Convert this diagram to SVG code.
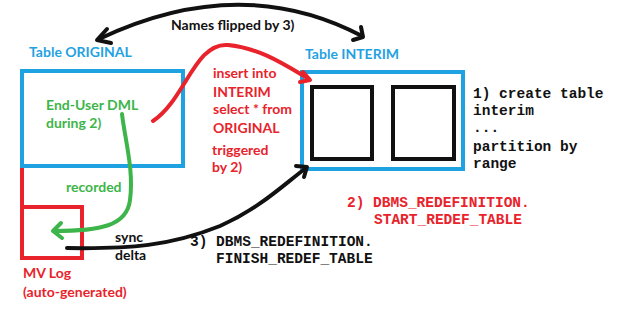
<svg xmlns="http://www.w3.org/2000/svg" width="620" height="313" viewBox="0 0 620 313">
<style>
.sans{font-family:Lato,"Liberation Sans",sans-serif;font-weight:bold;font-size:14px}
.mono{font-family:"Liberation Mono","Courier New",monospace;font-weight:bold;font-size:14.5px}
.blue{fill:#1fa2e2}
.green{fill:#3db54a}
.red{fill:#e8232b}
.blk{fill:#111}
.ln{fill:none;stroke-linecap:round;stroke-linejoin:round}
</style>
<rect width="620" height="313" fill="#fff"/>
<g id="original">
<rect x="22" y="71" width="161" height="95" fill="none" stroke="#1fa2e2" stroke-width="4"/>
<text class="sans blue" x="29" y="57">Table ORIGINAL</text>
<text class="sans green" x="46" y="110">End-User DML</text>
<text class="sans green" x="46" y="128">during 2)</text>
</g>
<g id="interim">
<rect x="302" y="72" width="161" height="97" fill="none" stroke="#1fa2e2" stroke-width="4"/>
<rect x="312" y="87" width="60" height="72" fill="none" stroke="#111" stroke-width="4"/>
<rect x="393" y="87" width="61" height="72" fill="none" stroke="#111" stroke-width="4"/>
<text class="sans blue" x="305" y="59">Table INTERIM</text>
</g>
<g id="mvlog">
<path d="M22,168 V258 H82 V207 H22" fill="none" stroke="#e8232b" stroke-width="4"/>
<text class="sans red" x="23" y="278">MV Log</text>
<text class="sans red" x="23" y="297">(auto-generated)</text>
</g>
<g id="notes">
<text class="mono blk" x="473" y="98">1) create table</text>
<text class="mono blk" x="473" y="115">interim</text>
<text class="mono blk" x="473" y="132">...</text>
<text class="mono blk" x="473" y="151">partition by</text>
<text class="mono blk" x="473" y="168">range</text>
<text class="mono red" x="347" y="207">2)  DBMS_REDEFINITION.</text>
<text class="mono red" x="374" y="224">START_REDEF_TABLE</text>
<text class="mono blk" x="190" y="246">3)  DBMS_REDEFINITION.</text>
<text class="mono blk" x="216" y="263">FINISH_REDEF_TABLE</text>
</g>
<g id="connectors">
<path class="ln" d="M99,39 Q240,-28 362,36" stroke="#111" stroke-width="4"/>
<path class="ln" d="M107,29 L97,40 L111,43" stroke="#111" stroke-width="4"/>
<path class="ln" d="M361,27 L363,37 L353,40" stroke="#111" stroke-width="4"/>
<text class="sans blk" x="171" y="30">Names flipped by 3)</text>

<path class="ln" d="M153,121 C185,100 195,42 228,45 C260,48 285,65 309,79" stroke="#e8232b" stroke-width="4"/>
<path class="ln" d="M303,72 L310,80 L300,82" stroke="#e8232b" stroke-width="4"/>
<text class="sans red" x="213" y="78">insert into</text>
<text class="sans red" x="213" y="97">INTERIM</text>
<text class="sans red" x="213" y="114">select * from</text>
<text class="sans red" x="213" y="133">ORIGINAL</text>
<text class="sans red" x="212" y="155">triggered</text>
<text class="sans red" x="212" y="172">by 2)</text>

<path class="ln" d="M122,114 C125,140 134,170 130,200 C127,226 100,231 54,231" stroke="#3db54a" stroke-width="4"/>
<path class="ln" d="M61,223 L53,231 L62,238" stroke="#3db54a" stroke-width="4"/>
<text class="sans green" x="66" y="192">recorded</text>

<path class="ln" d="M67,248 C130,249 170,246 220,226 C260,208 282,186 306,168" stroke="#111" stroke-width="4"/>
<path class="ln" d="M296,166 L307,167 L304,177" stroke="#111" stroke-width="4"/>
<text class="sans blk" x="115" y="242">sync</text>
<text class="sans blk" x="115" y="260">delta</text>
</g>
</svg>
